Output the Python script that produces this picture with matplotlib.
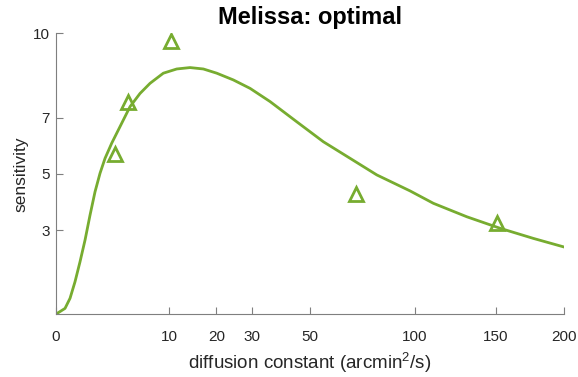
import numpy as np
import matplotlib
matplotlib.use('Agg')
from matplotlib import pyplot as plt

plt.rcParams['font.family'] = ['Liberation Sans', 'DejaVu Sans']
plt.rcParams['mathtext.fontset'] = 'custom'
plt.rcParams['mathtext.rm'] = 'Liberation Sans'
plt.rcParams['mathtext.it'] = 'Liberation Sans'

# fitted curve
curve_x = [0, 0.067, 0.159, 0.289, 0.458, 0.666, 0.913, 1.198, 1.523, 1.886, 2.433,
           3.208, 4.283, 5.514, 6.90, 8.98, 11.36, 13.99, 16.90, 20.11, 24.47,
           29.29, 35.63, 45.07, 55.56, 67.21, 79.95, 97.4, 110.6, 131.1, 153.2,
           177.0, 200]
curve_y = [0, 0.21, 0.57, 1.16, 1.87, 2.64, 3.53, 4.36, 5.02, 5.55, 6.09,
           6.68, 7.39, 7.86, 8.22, 8.58, 8.73, 8.78, 8.73, 8.58, 8.34,
           8.04, 7.57, 6.85, 6.14, 5.55, 4.96, 4.39, 3.95, 3.47, 3.06,
           2.70, 2.40]

# measured points
pts_x = [2.73, 4.09, 10.26, 70.0, 151.3]
pts_y = [5.70, 7.54, 9.74, 4.28, 3.24]

xticks = [0, 10, 20, 30, 50, 100, 150, 200]
yticks = [3, 5, 7, 10]

green = '#77AC30'

fig = plt.figure(figsize=(5.78, 3.77), dpi=100)
ax = fig.add_axes([0.0964, 0.1663, 0.8786, 0.7454])

ax.set_xscale('function', functions=(lambda v: np.sqrt(np.clip(v, 0, None)), lambda v: np.square(v)))

ax.plot(curve_x, curve_y, color=green, lw=2)
ax.plot(pts_x, pts_y, '^', color=green, mfc='none', ms=10, mew=2)

ax.set_xlim(0, 200)
ax.set_ylim(0, 10)
ax.set_xticks(xticks)
ax.set_xticklabels([str(t) for t in xticks])
ax.set_yticks(yticks)
ax.set_yticklabels([str(t) for t in yticks])
ax.minorticks_off()

for s in ['top', 'right']:
    ax.spines[s].set_visible(False)
for s in ['left', 'bottom']:
    ax.spines[s].set_color('#7f7f7f')
    ax.spines[s].set_linewidth(0.8)
ax.tick_params(direction='in', length=5, color='#7f7f7f', labelcolor='#262626',
               labelsize=11)
ax.tick_params(axis='x', pad=11)
ax.tick_params(axis='y', pad=4.5)

ax.set_xlabel('diffusion constant (arcmin$^2$/s)', fontsize=13.5, color='#262626', labelpad=5)
ax.set_ylabel('sensitivity', fontsize=12.5, color='#262626', labelpad=3)
ax.set_title('Melissa: optimal', fontsize=17, fontweight='bold', pad=7)

fig.savefig('out.png', dpi=100)
